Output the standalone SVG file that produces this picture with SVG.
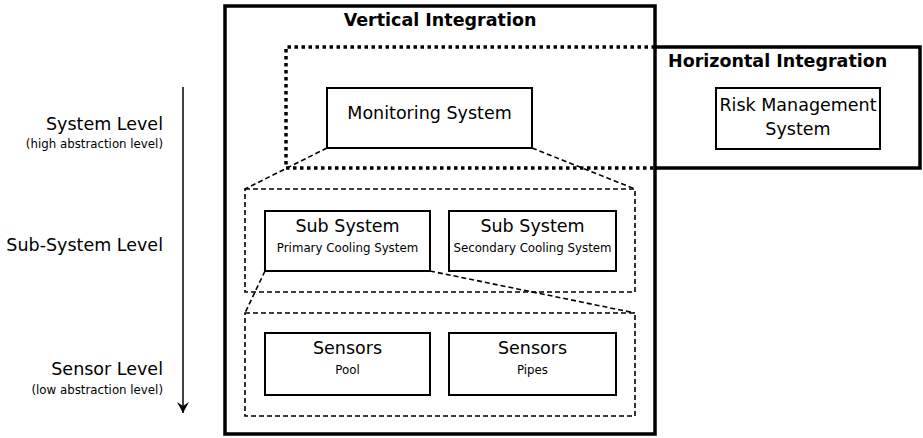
<svg xmlns="http://www.w3.org/2000/svg" width="923" height="438" viewBox="0 0 923 438">
  <style>
    text { font-family: "DejaVu Sans", "Liberation Sans", sans-serif; fill: #000; }
    .big { font-size: 17.5px; }
    .small { font-size: 11.8px; }
    .title { font-size: 17.5px; font-weight: bold; }
    .box { fill: #fff; stroke: #000; stroke-width: 2; }
    .thick { fill: none; stroke: #000; stroke-width: 3.5; }
    .dotted { fill: none; stroke: #000; stroke-width: 3.5; stroke-dasharray: 3.5 3.5; }
    .dashed { fill: none; stroke: #000; stroke-width: 1.6; stroke-dasharray: 5 3; }
  </style>
  <defs>
    <marker id="arrow" markerWidth="12" markerHeight="12" refX="11" refY="6" orient="auto" markerUnits="userSpaceOnUse" viewBox="0 0 12 12">
      <path d="M0,0 L11,6 L0,12 L4,6 Z" fill="#000"/>
    </marker>
  </defs>
  <rect width="923" height="438" fill="#fff"/>

  <!-- level labels -->
  <g id="levels">
    <text class="big" x="163" y="130" text-anchor="end">System Level</text>
    <text class="small" x="163" y="148" text-anchor="end">(high abstraction level)</text>
    <text class="big" x="163" y="251" text-anchor="end">Sub-System Level</text>
    <text class="big" x="163" y="375" text-anchor="end">Sensor Level</text>
    <text class="small" x="163" y="394" text-anchor="end">(low abstraction level)</text>
    <line x1="183" y1="87" x2="183" y2="413" stroke="#000" stroke-width="1.5" marker-end="url(#arrow)"/>
  </g>

  <!-- vertical integration frame -->
  <g id="vertical-integration">
    <rect class="thick" x="225" y="6" width="430" height="428"/>
    <text class="title" x="440" y="26" text-anchor="middle">Vertical Integration</text>
  </g>

  <!-- horizontal integration frame -->
  <g id="horizontal-integration">
    <path class="dotted" d="M655,47 L286,47 L286,168 L655,168"/>
    <path class="thick" d="M655,47 L920,47 L920,168 L655,168"/>
    <text class="title" x="668" y="67">Horizontal Integration</text>
  </g>

  <!-- containers -->
  <g id="subsystem-layer">
    <rect class="dashed" x="245" y="189" width="390" height="103"/>
  </g>
  <g id="sensor-layer">
    <rect class="dashed" x="245" y="313" width="390" height="103"/>
  </g>

  <!-- connectors -->
  <g id="connectors">
    <line class="dashed" x1="327" y1="148" x2="245" y2="189"/>
    <line class="dashed" x1="532" y1="148" x2="635" y2="189"/>
    <line class="dashed" x1="265" y1="271" x2="245" y2="313"/>
    <line class="dashed" x1="430" y1="271" x2="635" y2="313"/>
  </g>

  <g id="monitoring-system">
    <rect class="box" x="327" y="88" width="205" height="60"/>
    <text class="big" x="429.5" y="119" text-anchor="middle">Monitoring System</text>
  </g>

  <g id="risk-management-system">
    <rect class="box" x="716" y="88" width="164" height="61"/>
    <text class="big" x="798" y="111" text-anchor="middle">Risk Management</text>
    <text class="big" x="798" y="135" text-anchor="middle">System</text>
  </g>

  <g id="subsystem-primary">
    <rect class="box" x="265" y="211" width="165" height="60"/>
    <text class="big" x="347.5" y="232" text-anchor="middle">Sub System</text>
    <text class="small" x="347.5" y="252" text-anchor="middle">Primary Cooling System</text>
  </g>

  <g id="subsystem-secondary">
    <rect class="box" x="449" y="211" width="167" height="60"/>
    <text class="big" x="532.5" y="232" text-anchor="middle">Sub System</text>
    <text class="small" x="532.5" y="252" text-anchor="middle">Secondary Cooling System</text>
  </g>

  <g id="sensors-pool">
    <rect class="box" x="265" y="333" width="165" height="62"/>
    <text class="big" x="347.5" y="354" text-anchor="middle">Sensors</text>
    <text class="small" x="347.5" y="374" text-anchor="middle">Pool</text>
  </g>

  <g id="sensors-pipes">
    <rect class="box" x="449" y="333" width="167" height="62"/>
    <text class="big" x="532.5" y="354" text-anchor="middle">Sensors</text>
    <text class="small" x="532.5" y="374" text-anchor="middle">Pipes</text>
  </g>
</svg>
